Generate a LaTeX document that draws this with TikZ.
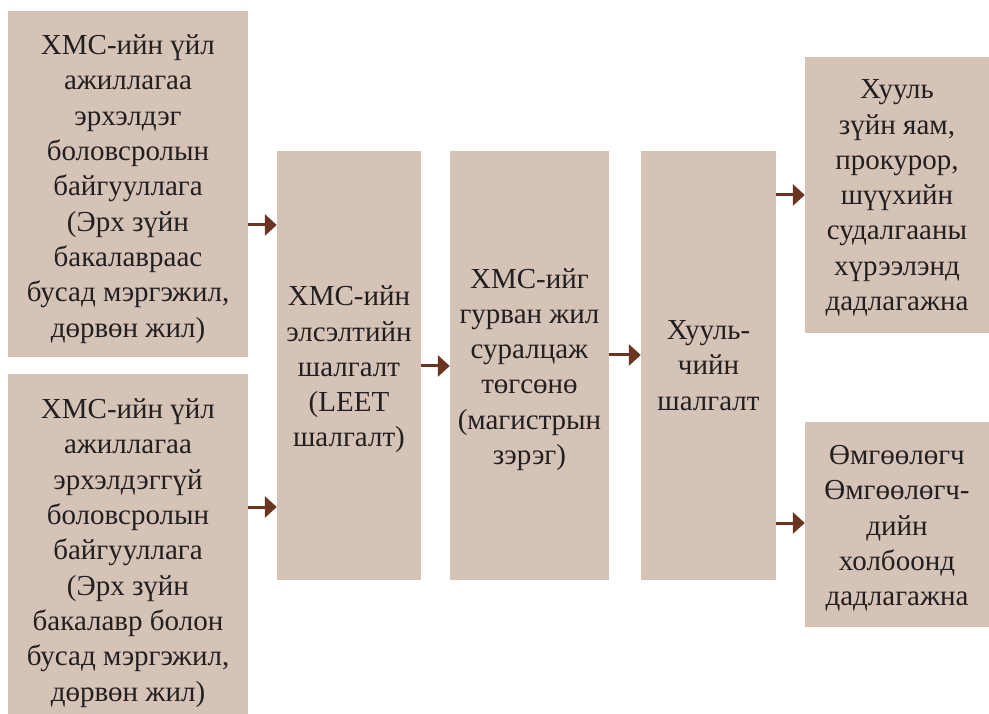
\documentclass[tikz,border=0pt]{standalone}
\usepackage{fontspec}
\setmainfont{Liberation Serif}
\usetikzlibrary{arrows.meta}
\definecolor{boxfill}{HTML}{D5C3B8}
\definecolor{arrowc}{HTML}{6B3420}
\definecolor{txt}{HTML}{231F20}
\begin{document}
\begin{tikzpicture}[x=1pt,y=-1pt,
  box/.style={fill=boxfill, draw=none, inner sep=0pt},
  label/.style={text=txt, align=center, inner sep=0pt,
    font=\fontsize{29}{35.3}\selectfont},
  arr/.style={draw=arrowc, line width=3pt, -{Triangle[length=12pt,width=21pt]}, fill=arrowc}]
\useasboundingbox (0,0) rectangle (989,714);
\node[box, minimum width=240pt, minimum height=346pt] (b1) at (128,184) {};
\node[box, minimum width=240pt, minimum height=354pt] (b2) at (128,551) {};
\node[box, minimum width=144pt, minimum height=429pt] (b3) at (349,365.5) {};
\node[box, minimum width=159pt, minimum height=429pt] (b4) at (529.5,365.5) {};
\node[box, minimum width=135pt, minimum height=429pt] (b5) at (708.5,365.5) {};
\node[box, minimum width=184pt, minimum height=276pt] (b6) at (897,195) {};
\node[box, minimum width=184pt, minimum height=205pt] (b7) at (897,524.5) {};
\node[label] (t1) at ([yshift=-5pt]b1.center)
  {ХМС-ийн үйл\\ажиллагаа\\эрхэлдэг\\боловсролын\\байгууллага\\(Эрх зүйн\\бакалавраас\\бусад мэргэжил,\\дөрвөн жил)};
\node[label] (t2) at ([yshift=-2pt]b2.center)
  {ХМС-ийн үйл\\ажиллагаа\\эрхэлдэггүй\\боловсролын\\байгууллага\\(Эрх зүйн\\бакалавр болон\\бусад мэргэжил,\\дөрвөн жил)};
\node[label] (t3) at ([yshift=-4pt]b3.center)
  {ХМС-ийн\\элсэлтийн\\шалгалт\\(LEET\\шалгалт)};
\node[label] (t4) at ([yshift=-4pt]b4.center)
  {ХМС-ийг\\гурван жил\\суралцаж\\төгсөнө\\(магистрын\\зэрэг)};
\node[label] (t5) at (b5.center)
  {Хууль-\\чийн\\шалгалт};
\node[label] (t6) at ([yshift=-3pt]b6.center)
  {Хууль\\зүйн яам,\\прокурор,\\шүүхийн\\судалгааны\\хүрээлэнд\\дадлагажна};
\node[label] (t7) at ([yshift=-4pt]b7.center)
  {Өмгөөлөгч\\Өмгөөлөгч-\\дийн\\холбоонд\\дадлагажна};
\coordinate (y1) at (0,225);
\coordinate (y2) at (0,507);
\coordinate (y3) at (0,366);
\coordinate (y4) at (0,355);
\coordinate (y5) at (0,195);
\coordinate (y6) at (0,523);
\draw[arr] (b1.east |- y1) -- (b3.west |- y1);
\draw[arr] (b2.east |- y2) -- (b3.west |- y2);
\draw[arr] (b3.east |- y3) -- (b4.west |- y3);
\draw[arr] (b4.east |- y4) -- (b5.west |- y4);
\draw[arr] (b5.east |- y5) -- (b6.west |- y5);
\draw[arr] (b5.east |- y6) -- (b7.west |- y6);
\end{tikzpicture}
\end{document}
